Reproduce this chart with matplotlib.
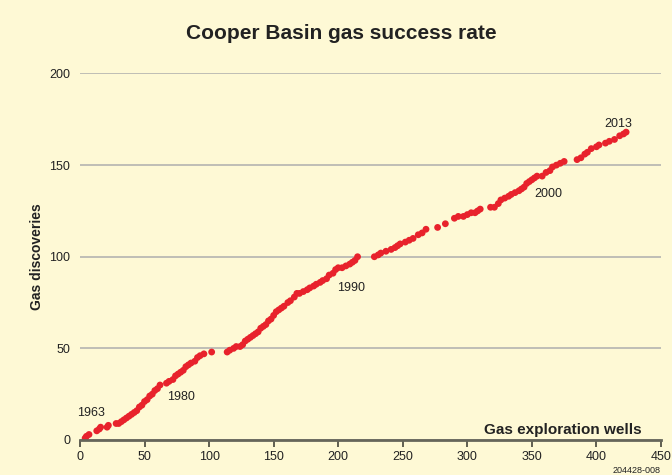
import matplotlib
matplotlib.use('Agg')
import matplotlib.pyplot as plt

plt.rcParams['font.family'] = ['Liberation Sans', 'DejaVu Sans']

# cumulative gas discoveries against exploration wells
wells = [4, 5, 7, 13, 15, 16, 21, 22,
         28, 30, 32, 34, 36, 38, 40, 42, 44, 46, 48, 50, 52, 54, 56, 58, 60, 62,
         67, 69, 72, 74, 76, 78, 80, 82, 84, 86, 89, 91, 93, 96, 102,
         114, 116, 119, 121, 124, 126, 128, 130, 132, 134, 136, 138, 140, 142,
         144, 146, 148, 150, 152, 154, 156, 158, 161, 163, 166, 168, 170, 173,
         176, 178, 181, 183, 186, 188, 191, 193, 196, 198, 200, 203, 206, 209,
         211, 213, 215,
         228, 231, 233, 237, 241, 244, 246, 248, 252, 255, 258, 262, 265, 268,
         277, 283,
         290, 293, 297, 300, 303, 306, 308, 310,
         318, 321, 324, 326, 329, 332, 334, 337, 340, 342, 344, 346, 348, 350,
         352, 354, 358, 361, 364, 366, 369, 372, 375,
         385, 388, 391, 393, 396, 400, 402, 407, 410, 414, 418, 421, 423]
discoveries = [1, 2, 3, 5, 6, 7, 7, 8,
               9, 9, 10, 11, 12, 13, 14, 15, 16, 18, 19, 21, 22, 24, 25, 27, 28, 30,
               31, 32, 33, 35, 36, 37, 38, 40, 41, 42, 43, 45, 46, 47, 48,
               48, 49, 50, 51, 51, 52, 54, 55, 56, 57, 58, 59, 61, 62,
               63, 65, 66, 68, 70, 71, 72, 73, 75, 76, 78, 80, 80, 81,
               82, 83, 84, 85, 86, 87, 88, 90, 91, 93, 94, 94, 95, 96,
               97, 98, 100,
               100, 101, 102, 103, 104, 105, 106, 107, 108, 109, 110, 112, 113, 115,
               116, 118,
               121, 122, 122, 123, 124, 124, 125, 126,
               127, 127, 129, 131, 132, 133, 134, 135, 136, 137, 138, 140, 141, 142,
               143, 144, 144, 146, 147, 149, 150, 151, 152,
               153, 154, 156, 157, 159, 160, 161, 162, 163, 164, 166, 167, 168]

year_labels = ['1963', '1980', '1990', '2000', '2013']
year_x = [8.5, 78, 210, 363, 417]
year_y = [14.5, 23.5, 83, 134, 172.5]

bg = '#fef9d5'
fig = plt.figure(figsize=(6.72, 4.75), dpi=100, facecolor=bg)
ax = fig.add_axes([0.119, 0.0737, 0.8646, 0.7716], facecolor=bg)

ax.scatter(wells, discoveries, s=24, color='#e8222c', edgecolors='none', zorder=3)

for lab, x, y in zip(year_labels, year_x, year_y):
    ax.text(x, y, lab, fontsize=9, ha='center', va='center', color='#222222')

ax.set_xlim(0, 450)
ax.set_ylim(0, 200)
ax.set_xticks(range(0, 451, 50))
ax.set_yticks(range(0, 201, 50))
ax.grid(axis='y', color='#b4b4b0', lw=1.2)
ax.set_axisbelow(True)
for s in ['top', 'right', 'left']:
    ax.spines[s].set_visible(False)
ax.spines['bottom'].set_color('#66665a')
ax.spines['bottom'].set_linewidth(2)
ax.spines['bottom'].set_zorder(4)
ax.tick_params(axis='x', length=5, width=1.2, color='#44443a', labelsize=9,
               labelcolor='#222222', pad=3)
ax.tick_params(axis='y', length=0, labelsize=9, labelcolor='#222222', pad=7)

ax.set_ylabel('Gas discoveries', fontsize=10, fontweight='bold', color='#222222', labelpad=4)
ax.text(435, 3, 'Gas exploration wells', fontsize=11, fontweight='bold',
        ha='right', va='baseline', color='#222222')
fig.text(0.508, 0.93, 'Cooper Basin gas success rate', fontsize=15, fontweight='bold',
         ha='center', va='center', color='#222222')
fig.text(0.983, 0.009, '204428-008', fontsize=6.5, ha='right', va='center', color='#222222')

fig.savefig('out.png', dpi=100, facecolor=bg)
